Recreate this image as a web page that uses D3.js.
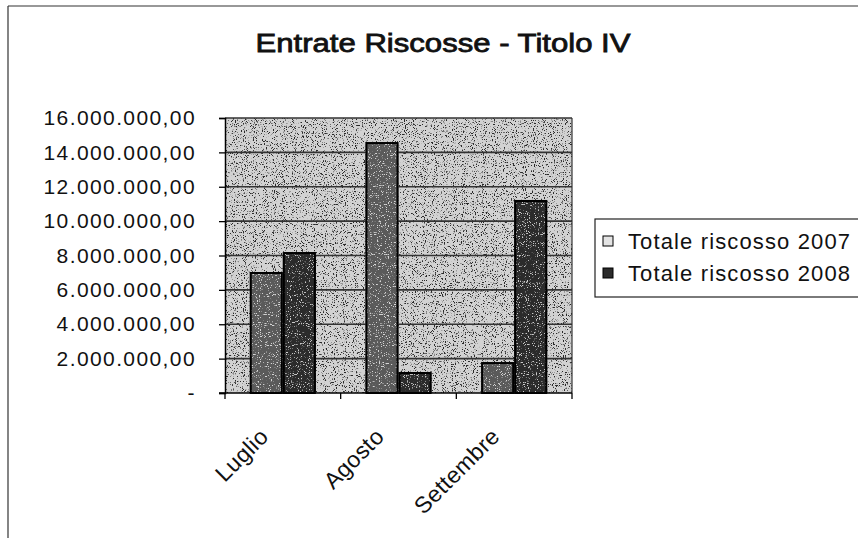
<!DOCTYPE html>
<html>
<head>
<meta charset="utf-8">
<script src="https://cdn.jsdelivr.net/npm/d3@7"></script>
<style>
  html, body { margin: 0; padding: 0; background: #fff; }
  svg { display: block; }
  text { font-family: Arial, "Liberation Sans", sans-serif; fill: #111; }
</style>
</head>
<body>
<svg id="chart" width="858" height="538"></svg>
<script>
// Monthly collected revenue, Title IV
const months = ["Luglio", "Agosto", "Settembre"];
const seriesNames = ["Totale riscosso 2007", "Totale riscosso 2008"];
const riscosso2007 = [7040000, 14600000, 1800000];
const riscosso2008 = [8200000, 1220000, 11230000];
const yTicks = [0, 2e6, 4e6, 6e6, 8e6, 10e6, 12e6, 14e6, 16e6];
const titleText = "Entrate Riscosse - Titolo IV";

const seriesValues = [riscosso2007, riscosso2008];
const rows = months.map((m, i) => ({
  month: m,
  values: seriesNames.map((s, j) => ({ series: s, value: seriesValues[j][i] }))
}));

const svg = d3.select("#chart");
const W = 858, H = 538;
const plot = { left: 225, right: 572, top: 118, bottom: 393 };

const itLocale = d3.formatLocale({ decimal: ",", thousands: ".", grouping: [3], currency: ["€", ""] });
const fmt = itLocale.format(",.2f");

// Speckle filters give the screened, halftone look of the fills
const defs = svg.append("defs");
function speckle(id, seed, freq, slope, offset, color) {
  const f = defs.append("filter").attr("id", id)
    .attr("x", 0).attr("y", 0).attr("width", 1).attr("height", 1)
    .attr("filterUnits", "objectBoundingBox");
  f.append("feTurbulence").attr("type", "fractalNoise")
    .attr("baseFrequency", freq).attr("numOctaves", 2).attr("seed", seed).attr("result", "noise");
  f.append("feColorMatrix").attr("in", "noise").attr("type", "matrix")
    .attr("values", `0 0 0 0 ${color} 0 0 0 0 ${color} 0 0 0 0 ${color} ${slope} 0 0 0 ${offset}`)
    .attr("result", "dots");
  f.append("feComposite").attr("in", "dots").attr("in2", "SourceAlpha").attr("operator", "in");
}
speckle("darkDots", 4, 0.9, 9, -5.2, 0);
speckle("lightDots", 11, 0.9, 9, -5.4, 1);

const x0 = d3.scaleBand().domain(months).range([plot.left, plot.right]).paddingInner(0).paddingOuter(0);
const x1 = d3.scaleBand().domain(seriesNames).range([0, x0.bandwidth()]).paddingInner(0).paddingOuter(0.75);
const y = d3.scaleLinear().domain([0, 16e6]).range([plot.bottom, plot.top]);

const fills = { "Totale riscosso 2007": "#5a5a5a", "Totale riscosso 2008": "#2b2b2b" };

// Outer chart frame (top and left edges visible)
svg.append("line").attr("x1", 8).attr("x2", W).attr("y1", 6).attr("y2", 6)
  .attr("stroke", "#333").attr("stroke-width", 1.2);
svg.append("line").attr("x1", 8).attr("x2", 8).attr("y1", 6).attr("y2", H)
  .attr("stroke", "#333").attr("stroke-width", 1.2);

// Title
svg.append("text")
  .attr("x", 443).attr("y", 52)
  .attr("text-anchor", "middle")
  .attr("font-size", 26)
  .attr("stroke", "#111").attr("stroke-width", 0.8)
  .attr("textLength", 375).attr("lengthAdjust", "spacingAndGlyphs")
  .text(titleText);

// Plot background
const bg = svg.append("g");
bg.append("rect").attr("x", plot.left).attr("y", plot.top)
  .attr("width", plot.right - plot.left).attr("height", plot.bottom - plot.top)
  .attr("fill", "#d2d2d2");
bg.append("rect").attr("x", plot.left).attr("y", plot.top)
  .attr("width", plot.right - plot.left).attr("height", plot.bottom - plot.top)
  .attr("fill", "#000").attr("filter", "url(#darkDots)").attr("opacity", 0.8);

// Gridlines
svg.append("g").selectAll("line").data(yTicks.filter(d => d > 0)).join("line")
  .attr("x1", plot.left).attr("x2", plot.right)
  .attr("y1", d => y(d)).attr("y2", d => y(d))
  .attr("stroke", "#333").attr("stroke-width", 1.6);

// Right edge of plot
svg.append("line").attr("x1", plot.right).attr("x2", plot.right)
  .attr("y1", plot.top).attr("y2", plot.bottom)
  .attr("stroke", "#333").attr("stroke-width", 1.2);

// Bars
const groups = svg.append("g").selectAll("g").data(rows).join("g")
  .attr("transform", d => `translate(${x0(d.month)},0)`);
const bars = groups.selectAll("g").data(d => d.values).join("g");
bars.append("rect")
  .attr("x", d => x1(d.series)).attr("width", x1.bandwidth())
  .attr("y", d => y(d.value)).attr("height", d => y(0) - y(d.value))
  .attr("fill", d => fills[d.series]);
bars.append("rect")
  .attr("x", d => x1(d.series)).attr("width", x1.bandwidth())
  .attr("y", d => y(d.value)).attr("height", d => y(0) - y(d.value))
  .attr("fill", "#fff").attr("filter", "url(#lightDots)").attr("opacity", 0.75);
bars.append("rect")
  .attr("x", d => x1(d.series) + 1).attr("width", x1.bandwidth() - 2)
  .attr("y", d => y(d.value) + 1).attr("height", d => Math.max(0, y(0) - y(d.value) - 1))
  .attr("fill", "none").attr("stroke", "#000").attr("stroke-width", 2);

// Y axis
const yAxis = svg.append("g").attr("transform", `translate(${plot.left},0)`)
  .call(d3.axisLeft(y).tickValues(yTicks).tickSize(6).tickPadding(23)
    .tickFormat(d => d === 0 ? "-" : fmt(d)));
yAxis.select(".domain").attr("stroke", "#000").attr("stroke-width", 1.5);
yAxis.selectAll(".tick line").attr("stroke", "#000").attr("stroke-width", 1.3);
yAxis.selectAll(".tick text")
  .attr("font-size", 21).attr("letter-spacing", "1.4px").attr("fill", "#111")
  .attr("font-family", "Arial, 'Liberation Sans', sans-serif");

// X axis: ticks at the category boundaries
const xAxisG = svg.append("g");
xAxisG.append("line").attr("x1", plot.left - 6).attr("x2", plot.right)
  .attr("y1", plot.bottom).attr("y2", plot.bottom)
  .attr("stroke", "#000").attr("stroke-width", 1.5);
const boundaries = months.map(m => x0(m)).concat([x0(months[months.length - 1]) + x0.bandwidth()]);
xAxisG.selectAll("line.tk").data(boundaries).join("line").attr("class", "tk")
  .attr("x1", d => d).attr("x2", d => d)
  .attr("y1", plot.bottom).attr("y2", plot.bottom + 6)
  .attr("stroke", "#000").attr("stroke-width", 1.3);
xAxisG.selectAll("text").data(months).join("text")
  .attr("transform", d => `translate(${x0(d) + x0.bandwidth() / 2 - 13},438) rotate(-45)`)
  .attr("text-anchor", "end")
  .attr("font-size", 23)
  .attr("letter-spacing", "0.4px")
  .text(d => d);

// Legend
const lg = svg.append("g");
lg.append("rect").attr("x", 595).attr("y", 219).attr("width", 275).attr("height", 78)
  .attr("fill", "#fff").attr("stroke", "#222").attr("stroke-width", 1.2);
const swatchFill = { "Totale riscosso 2007": "#e4e4e4", "Totale riscosso 2008": "#2b2b2b" };
const items = lg.selectAll("g").data(seriesNames).join("g")
  .attr("transform", (d, i) => `translate(603,${241 + i * 32})`);
items.append("rect").attr("x", 0).attr("y", -5).attr("width", 10).attr("height", 10)
  .attr("fill", d => swatchFill[d]).attr("stroke", "#000").attr("stroke-width", 1);
items.append("text").attr("x", 25).attr("y", 8)
  .attr("font-size", 22)
  .attr("textLength", 222).attr("lengthAdjust", "spacing")
  .text(d => d);
</script>
</body>
</html>
